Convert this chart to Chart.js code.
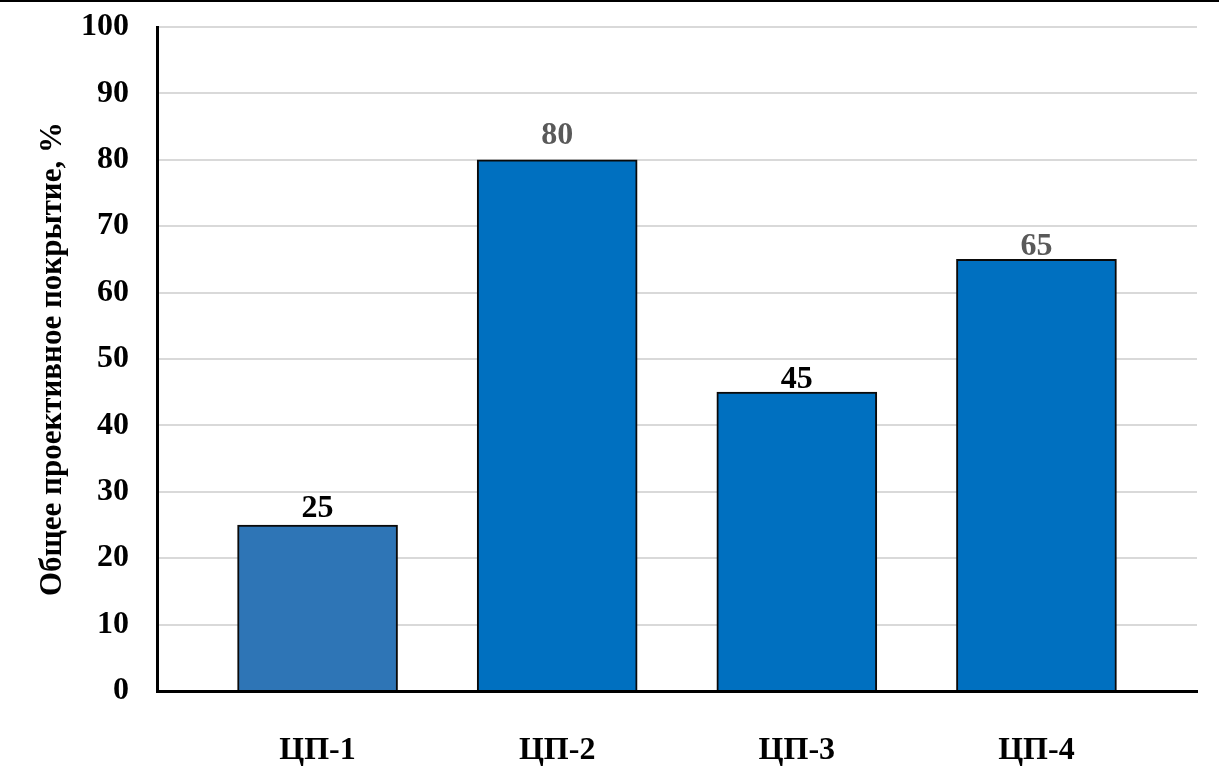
<!DOCTYPE html>
<html lang="ru">
<head>
<meta charset="utf-8">
<title>Общее проективное покрытие</title>
<script src="https://cdn.jsdelivr.net/npm/chart.js"></script>
<style>
    html, body { margin: 0; padding: 0; background: #fff; }
    #wrap { position: relative; width: 1219px; height: 772px; }
    #topline { position: absolute; left: 0; top: 0; width: 1219px; height: 2px; background: #000; }
</style>
</head>
<body>
<div id="wrap">
    <canvas id="chart"></canvas>
    <div id="topline"></div>
</div>
<script>
// Данные диаграммы
const categories = ['ЦП-1', 'ЦП-2', 'ЦП-3', 'ЦП-4'];
const coverage = [25, 80, 45, 65];
const yTicks = [0, 10, 20, 30, 40, 50, 60, 70, 80, 90, 100];

const barColors = ['#2E75B6', '#0070C0', '#0070C0', '#0070C0'];
const labelColors = ['#000000', '#595959', '#000000', '#595959'];

const serif = "'Liberation Serif', 'Times New Roman', serif";

// Подписи значений над столбцами
const valueLabels = {
    id: 'valueLabels',
    afterDatasetsDraw(chart, args, opts) {
        const ctx = chart.ctx;
        const meta = chart.getDatasetMeta(0);
        ctx.save();
        ctx.font = `bold 32px ${serif}`;
        ctx.textAlign = 'center';
        ctx.textBaseline = 'alphabetic';
        meta.data.forEach((bar, i) => {
            ctx.fillStyle = labelColors[i];
            ctx.fillText(String(coverage[i]), bar.x, bar.y - opts.gaps[i]);
        });
        ctx.restore();
    }
};

new Chart(document.getElementById('chart').getContext('2d'), {
    type: 'bar',
    data: {
        datasets: [{
            data: categories.map((c, i) => ({ x: i, y: coverage[i] })),
            backgroundColor: barColors,
            borderColor: '#0a0a0a',
            borderWidth: 2,
            borderSkipped: 'bottom',
            barThickness: 160
        }]
    },
    options: {
        responsive: true,
        maintainAspectRatio: false,
        animation: false,
        layout: { padding: { top: 27, right: 22, left: 0, bottom: 0 } },
        plugins: {
            legend: { display: false },
            tooltip: { enabled: false },
            valueLabels: { gaps: [8, 16, 4, 4] }
        },
        scales: {
            x: {
                type: 'linear',
                min: -0.67,
                max: 3.67,
                offset: false,
                grid: { display: false },
                border: { display: true, color: '#000', width: 3 },
                afterBuildTicks: axis => { axis.ticks = categories.map((c, i) => ({ value: i })); },
                afterFit: axis => { axis.height = 81; },
                ticks: {
                    callback: v => categories[v],
                    color: '#000',
                    padding: 33,
                    maxRotation: 0,
                    font: { family: serif, size: 32, weight: 'bold' }
                }
            },
            y: {
                min: 0,
                max: 100,
                afterBuildTicks: axis => { axis.ticks = yTicks.map(v => ({ value: v })); },
                afterFit: axis => {
                    axis.width = 157;
                    axis.paddingTop = 0;
                    axis.paddingBottom = 0;
                },
                grid: { color: '#d9d9d9', lineWidth: 2, drawTicks: false },
                border: { display: true, color: '#000', width: 3 },
                ticks: {
                    color: '#000',
                    padding: 28,
                    font: { family: serif, size: 32, weight: 'bold' }
                },
                title: {
                    display: true,
                    text: 'Общее проективное покрытие, %',
                    color: '#000',
                    padding: { top: 34, bottom: 0 },
                    font: { family: serif, size: 31, weight: 'bold' }
                }
            }
        }
    },
    plugins: [valueLabels]
});
</script>
</body>
</html>
